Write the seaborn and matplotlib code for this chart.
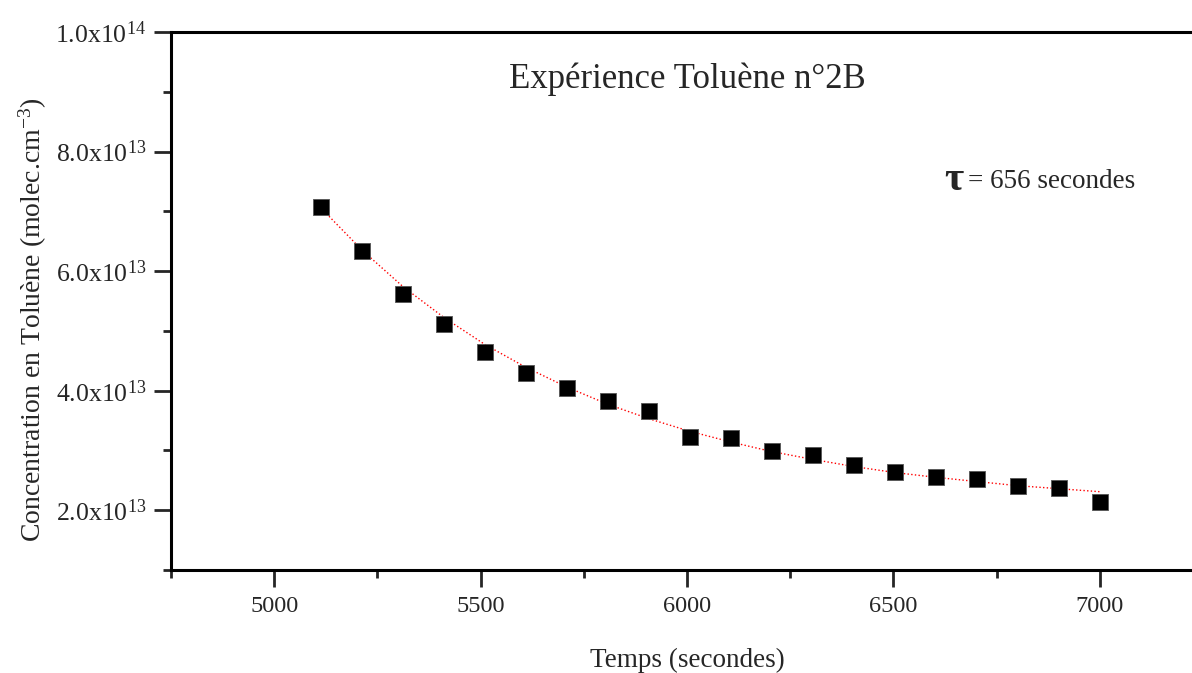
import numpy as np
import pandas as pd
import matplotlib
matplotlib.use("Agg")
import matplotlib.pyplot as plt
import seaborn as sns
from matplotlib.ticker import MultipleLocator, FuncFormatter

# Data
temps = [5114, 5213, 5312, 5412, 5511, 5610, 5709, 5809, 5908, 6007,
         6107, 6206, 6305, 6405, 6504, 6603, 6702, 6802, 6901, 7000]
concentration = [7.07, 6.33, 5.62, 5.11, 4.65, 4.29, 4.04, 3.83, 3.66, 3.23,
                 3.20, 2.99, 2.92, 2.76, 2.64, 2.56, 2.52, 2.41, 2.38, 2.14]
# exponential fit (tau = 656 s)
fit_values = [7.05, 6.35, 5.74, 5.22, 4.77, 4.39, 4.06, 3.77, 3.53, 3.32,
              3.14, 2.98, 2.85, 2.73, 2.63, 2.55, 2.48, 2.41, 2.36, 2.31]

df = pd.DataFrame({
    "Temps": temps,
    "Conc": np.array(concentration) * 1e13,
    "Fit": np.array(fit_values) * 1e13,
})

sns.set_style("ticks")
plt.rcParams["font.family"] = ["Liberation Serif", "DejaVu Serif"]
plt.rcParams["mathtext.fontset"] = "custom"
plt.rcParams["mathtext.rm"] = "Liberation Serif"
plt.rcParams["mathtext.it"] = "Liberation Serif:italic"
plt.rcParams["mathtext.bf"] = "Liberation Serif:bold"

fig = plt.figure(figsize=(11.92, 6.73), dpi=100)
ax = fig.add_axes([171 / 1192, 103 / 673, 1032 / 1192, 538 / 673])

# fitted curve
sns.lineplot(data=df, x="Temps", y="Fit", ax=ax, color="red",
             linestyle=":", linewidth=1.0)
# measurements
sns.scatterplot(data=df, x="Temps", y="Conc", ax=ax, marker="s", s=140,
                color="black", edgecolor="#555555", linewidth=0.6, zorder=3)

ax.set_xlim(4750, 7250)
ax.set_ylim(1e13, 1e14)

ax.xaxis.set_major_locator(MultipleLocator(500))
ax.xaxis.set_minor_locator(MultipleLocator(250))
ax.yaxis.set_major_locator(MultipleLocator(2e13))
ax.yaxis.set_minor_locator(MultipleLocator(1e13))


def sci_fmt(v, pos):
    if v <= 0:
        return ""
    exp = int(np.floor(np.log10(v)))
    mant = v / 10 ** exp
    return r"%.1fx10$^{%d}$" % (mant, exp)


ax.yaxis.set_major_formatter(FuncFormatter(sci_fmt))
ax.set_yticks([2e13, 4e13, 6e13, 8e13, 1e14])

ax.tick_params(axis="both", which="major", length=12, width=2, direction="out")
ax.tick_params(axis="both", which="minor", length=6, width=2, direction="out")
ax.tick_params(axis="x", labelsize=17.5, pad=7)
ax.tick_params(axis="y", labelsize=18.5, pad=6)
ax.tick_params(top=False, right=False, which="both")

for side in ["left", "bottom", "top"]:
    ax.spines[side].set_linewidth(2.2)
    ax.spines[side].set_color("black")
ax.spines["right"].set_visible(False)

ax.set_xlabel("Temps (secondes)", fontsize=19.5, labelpad=22)
ax.set_ylabel(r"Concentration en Toluène (molec.cm$^{-3}$)", fontsize=20)
ax.yaxis.set_label_coords(-0.118, 0.465)

ax.text(0.5, 0.912, "Expérience Toluène n°2B", transform=ax.transAxes,
        ha="center", va="center", fontsize=25)
ax.text(0.749, 0.724, "τ", transform=ax.transAxes, ha="left", va="center",
        fontsize=30, fontweight="bold")
ax.text(0.772, 0.722, "= 656 secondes", transform=ax.transAxes, ha="left",
        va="center", fontsize=19.5)

fig.savefig("out.png", dpi=100)
